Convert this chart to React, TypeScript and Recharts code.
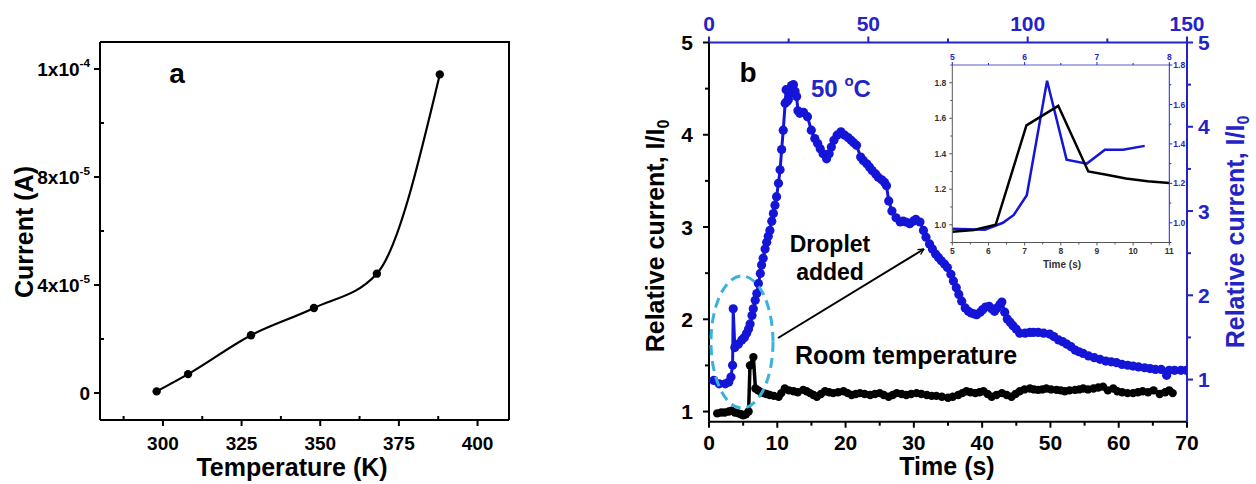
import React from "react";
import { LineChart, Line, XAxis, YAxis } from "recharts";

const FONT = '"Liberation Sans", Arial, Helvetica, sans-serif';
const BLUE = "#1515d8";
const AXBLUE = "#2424c6";
const SKY = "#3ab2dc";

// ---- panel a: current vs temperature
const tempK = [298, 308, 328, 348, 368, 388];
const currentA = [0.06e-5, 0.7e-5, 2.14e-5, 3.15e-5, 4.42e-5, 11.8e-5];
const tempTicks = [287.5, 300, 312.5, 325, 337.5, 350, 362.5, 375, 387.5, 400];
const tempMajor = [300, 325, 350, 375, 400];
const currTicks = [0, 2e-5, 4e-5, 6e-5, 8e-5, 1e-4, 1.2e-4];
const currMajor = [0, 4e-5, 8e-5, 1.2e-4];
const currLabels = ["0", "4x10^-5", "8x10^-5", "1x10^-4"];

// ---- panel b: room temperature (bottom / left axes), [time s, I/I0]
const roomSeries: [number, number][] = [
  [1.2, 0.98], [1.8, 0.99], [2.3, 0.99], [2.9, 1.0], [3.3, 1.01], [3.8, 0.99], [4.3, 0.98],
  [4.7, 0.97], [5.0, 0.96], [5.4, 0.97], [5.8, 1.0], [6.0, 1.5], [6.5, 1.59], [6.8, 1.25],
  [7.2, 1.23], [7.6, 1.21], [8.0, 1.2], [8.4, 1.19], [8.9, 1.18], [9.5, 1.17], [10.2, 1.16],
  [10.6, 1.2], [11.1, 1.25], [11.7, 1.23], [12.4, 1.22], [13.0, 1.21], [13.8, 1.235],
  [14.3, 1.22], [14.8, 1.2], [15.3, 1.18], [15.8, 1.16], [16.4, 1.19], [17.0, 1.22],
  [17.6, 1.21], [18.2, 1.2], [18.9, 1.21], [19.7, 1.22], [20.3, 1.2], [20.9, 1.18],
  [21.5, 1.19], [22.1, 1.2], [22.8, 1.19], [23.6, 1.18], [24.3, 1.19], [25.0, 1.2],
  [25.6, 1.18], [26.3, 1.16], [26.9, 1.18], [27.5, 1.2], [28.2, 1.19], [28.9, 1.18],
  [29.6, 1.19], [30.4, 1.2], [31.1, 1.19], [31.9, 1.18], [32.6, 1.17], [33.3, 1.17],
  [34.1, 1.16], [35.0, 1.15], [35.7, 1.16], [36.5, 1.18], [37.1, 1.2], [37.7, 1.22],
  [38.3, 1.21], [39.0, 1.2], [39.6, 1.21], [40.2, 1.22], [40.8, 1.19], [41.4, 1.16],
  [42.1, 1.18], [42.9, 1.2], [43.6, 1.18], [44.3, 1.16], [44.9, 1.19], [45.5, 1.22],
  [46.2, 1.24], [47.0, 1.25], [47.6, 1.24], [48.2, 1.235], [48.8, 1.24], [49.4, 1.25],
  [50.1, 1.24], [50.9, 1.235], [51.5, 1.23], [52.1, 1.22], [52.8, 1.23], [53.6, 1.235],
  [54.2, 1.24], [54.8, 1.25], [55.5, 1.24], [56.3, 1.25], [57.0, 1.26], [57.7, 1.27],
  [58.4, 1.23], [59.2, 1.25], [59.8, 1.22], [60.5, 1.21], [61.3, 1.2], [62.1, 1.2],
  [62.8, 1.21], [63.5, 1.22], [64.3, 1.21], [65.1, 1.23], [66.0, 1.19], [66.8, 1.21],
  [67.4, 1.23], [67.9, 1.2],
];

// ---- panel b: 50 oC (top / right axes)
const hotSeries: [number, number][] = [
  [1.5, 0.99], [3.2, 0.95], [5.1, 0.95], [6.2, 0.97], [6.9, 1.03], [7.4, 1.17], [7.6, 1.84],
  [8.1, 1.38], [9.2, 1.42], [10.3, 1.47], [11.1, 1.5], [11.8, 1.55], [12.4, 1.6], [12.9, 1.66],
  [13.5, 1.76], [13.9, 1.84], [14.5, 1.94], [15.0, 2.02], [15.5, 2.14], [16.1, 2.26],
  [16.5, 2.36], [17.0, 2.44], [17.6, 2.55], [18.1, 2.63], [18.6, 2.7], [19.1, 2.77],
  [19.7, 2.88], [20.2, 2.97], [20.7, 3.07], [21.2, 3.17], [21.8, 3.33], [22.3, 3.49],
  [22.8, 3.73], [23.3, 3.96], [23.9, 4.28], [24.2, 4.44], [24.5, 4.3], [24.9, 4.32],
  [25.5, 4.4], [25.9, 4.49], [26.5, 4.5], [27.0, 4.42], [27.5, 4.36], [27.9, 4.19],
  [28.5, 4.16], [29.7, 4.17], [30.9, 4.12], [32.1, 3.96], [33.2, 3.86], [34.1, 3.8],
  [34.9, 3.74], [35.8, 3.68], [36.9, 3.62], [37.7, 3.68], [38.4, 3.76], [39.2, 3.84],
  [40.2, 3.9], [41.4, 3.94], [42.6, 3.9], [43.7, 3.87], [44.6, 3.84], [45.4, 3.81],
  [46.3, 3.78], [47.6, 3.64], [48.4, 3.6], [49.5, 3.56], [50.4, 3.52], [51.2, 3.48],
  [52.3, 3.44], [53.1, 3.4], [54.2, 3.37], [55.1, 3.34], [55.7, 3.3], [56.4, 3.12],
  [57.4, 3.0], [58.7, 2.92], [60.0, 2.87], [60.9, 2.88], [61.8, 2.87], [63.0, 2.85],
  [64.1, 2.88], [64.9, 2.9], [66.2, 2.87], [67.3, 2.77], [68.1, 2.69], [69.2, 2.61],
  [70.1, 2.55], [71.1, 2.49], [72.0, 2.45], [72.9, 2.41], [73.9, 2.37], [74.8, 2.33],
  [75.9, 2.25], [76.7, 2.17], [77.6, 2.09], [78.4, 2.01], [79.3, 1.93], [80.4, 1.85],
  [81.4, 1.81], [82.3, 1.79], [83.1, 1.78], [84.0, 1.77], [85.1, 1.8], [85.9, 1.83],
  [86.8, 1.86], [87.9, 1.87], [88.7, 1.84], [89.6, 1.81], [90.4, 1.85], [91.3, 1.89],
  [91.9, 1.92], [92.8, 1.8], [93.6, 1.72], [94.5, 1.68], [95.4, 1.64], [96.4, 1.6],
  [97.5, 1.55], [99.2, 1.55], [100.7, 1.56], [101.8, 1.56], [103.3, 1.56], [105.0, 1.55],
  [106.9, 1.54], [108.2, 1.51], [109.7, 1.47], [111.0, 1.45], [112.3, 1.42], [113.6, 1.39],
  [114.9, 1.35], [116.1, 1.33], [117.4, 1.31], [119.1, 1.28], [120.9, 1.26], [122.7, 1.24],
  [124.5, 1.22], [126.2, 1.21], [127.9, 1.2], [129.6, 1.18], [131.4, 1.17], [133.1, 1.16],
  [134.8, 1.15], [136.7, 1.14], [138.4, 1.13], [140.1, 1.12], [141.9, 1.12], [143.6, 1.05],
  [144.4, 1.11], [146.1, 1.11], [148.1, 1.11], [149.8, 1.11],
];

const timeTicks = [0, 5, 10, 15, 20, 25, 30, 35, 40, 45, 50, 55, 60, 65, 70];
const timeMajor = [0, 10, 20, 30, 40, 50, 60, 70];
const topTicks = [0, 25, 50, 75, 100, 125, 150];
const topMajor = [0, 50, 100, 150];
const relTicks = [1, 1.5, 2, 2.5, 3, 3.5, 4, 4.5, 5];
const relMajor = [1, 2, 3, 4, 5];

// ---- inset
const insetRoom: [number, number][] = [
  [5.0, 0.96], [5.6, 0.97], [6.2, 1.0], [7.05, 1.56], [7.93, 1.67], [8.76, 1.3],
  [9.3, 1.28], [9.8, 1.26], [10.4, 1.245], [11.0, 1.235],
];
const insetHot: [number, number][] = [
  [5.0, 0.97], [5.45, 0.965], [5.7, 1.0], [5.85, 1.04], [6.03, 1.14], [6.31, 1.72],
  [6.58, 1.32], [6.86, 1.3], [7.11, 1.37], [7.36, 1.37], [7.66, 1.39],
];
const inBotTicks = [5, 5.5, 6, 6.5, 7, 7.5, 8, 8.5, 9, 9.5, 10, 10.5, 11];
const inBotMajor = [5, 6, 7, 8, 9, 10, 11];
const inTopTicks = [5, 5.5, 6, 6.5, 7, 7.5, 8];
const inTopMajor = [5, 6, 7, 8];
const inLeftTicks = [0.9, 1.0, 1.1, 1.2, 1.3, 1.4, 1.5, 1.6, 1.7, 1.8, 1.9];
const inRightTicks = [0.9, 1.0, 1.1, 1.2, 1.3, 1.4, 1.5, 1.6, 1.7, 1.8];
const inRelMajor = [1.0, 1.2, 1.4, 1.6, 1.8];

type Side = "left" | "right" | "top" | "bottom";
type TickCfg = {
  side: Side;
  major: number[];
  labels?: string[];
  fmt?: (v: number) => string;
  color: string;
  size: number;
  majLen: number;
  minLen: number;
  majIn?: boolean;
  minIn?: boolean;
  gap: number;
  lineColor?: string;
  lineWidth?: number;
};

const same = (a: number, b: number) =>
  Math.abs(a - b) <= 1e-6 * (Math.abs(a) + Math.abs(b)) + 1e-12;

function rich(s: string, size: number) {
  const i = s.indexOf("^");
  if (i < 0) return s;
  return [
    <tspan key="b">{s.slice(0, i)}</tspan>,
    <tspan key="s" fontSize={size * 0.62} dy={-size * 0.45}>
      {s.slice(i + 1)}
    </tspan>,
  ];
}

function makeTick(c: TickCfg) {
  return (p: any) => {
    const { x, y, payload } = p;
    const v = payload.value;
    const mi = c.major.findIndex((m) => same(m, v));
    const isMaj = mi >= 0;
    const len = isMaj ? c.majLen : c.minLen;
    const inward = isMaj ? !!c.majIn : !!c.minIn;
    const s = inward ? -1 : 1;
    let x2 = x;
    let y2 = y;
    if (c.side === "left") x2 = x - s * len;
    if (c.side === "right") x2 = x + s * len;
    if (c.side === "top") y2 = y - s * len;
    if (c.side === "bottom") y2 = y + s * len;
    const label = isMaj
      ? c.labels
        ? c.labels[mi]
        : c.fmt
        ? c.fmt(v)
        : String(v)
      : null;
    const off = (inward ? 0 : len) + c.gap;
    let tx = x;
    let ty = y;
    let anchor: "start" | "middle" | "end" = "middle";
    let dy = 0;
    if (c.side === "left") {
      tx = x - off;
      anchor = "end";
      dy = c.size * 0.36;
    } else if (c.side === "right") {
      tx = x + off;
      anchor = "start";
      dy = c.size * 0.36;
    } else if (c.side === "top") {
      ty = y - off;
    } else {
      ty = y + off;
      dy = c.size * 0.72;
    }
    return (
      <g>
        <line
          x1={x}
          y1={y}
          x2={x2}
          y2={y2}
          stroke={c.lineColor || c.color}
          strokeWidth={c.lineWidth || 2}
        />
        {label !== null && (
          <text
            x={tx}
            y={ty}
            dy={dy}
            textAnchor={anchor}
            fill={c.color}
            fontSize={c.size}
            fontWeight={700}
            fontFamily={FONT}
          >
            {rich(label, c.size)}
          </text>
        )}
      </g>
    );
  };
}

const axisCommon = {
  tickSize: 0,
  tickMargin: 0,
  tickLine: false,
  interval: 0 as const,
  allowDataOverflow: true,
};

export default function App() {
  const aData = tempK.map((t, i) => ({ x: t, y: currentA[i] }));
  const roomData = roomSeries.map(([x, y]) => ({ x, y }));
  const hotData = hotSeries.map(([x, y]) => ({ x, y }));
  const inRoomData = insetRoom.map(([x, y]) => ({ x, y }));
  const inHotData = insetHot.map(([x, y]) => ({ x, y }));
  const f1 = (v: number) => v.toFixed(1);

  return (
    <div
      style={{
        position: "absolute",
        left: 0,
        top: 0,
        width: 1256,
        height: 484,
        background: "#fff",
        fontFamily: FONT,
        overflow: "hidden",
      }}
    >
      {/* panel a */}
      <div style={{ position: "absolute", left: 0, top: 0 }}>
        <LineChart width={560} height={484} margin={{ top: 40, right: 49, bottom: 24, left: 40 }}>
          <XAxis
            {...axisCommon}
            type="number"
            dataKey="x"
            domain={[280, 410]}
            ticks={tempTicks}
            height={40}
            axisLine={{ stroke: "#000", strokeWidth: 2 }}
            tick={makeTick({ side: "bottom", major: tempMajor, color: "#000", size: 19, majLen: 6, minLen: 4, minIn: true, gap: 10 })}
          />
          <XAxis
            {...axisCommon}
            xAxisId="frame"
            orientation="top"
            type="number"
            domain={[280, 410]}
            ticks={[]}
            tick={false}
            height={2}
            axisLine={{ stroke: "#000", strokeWidth: 2 }}
          />
          <YAxis
            {...axisCommon}
            type="number"
            dataKey="y"
            domain={[-1e-5, 1.3e-4]}
            ticks={currTicks}
            width={60}
            axisLine={{ stroke: "#000", strokeWidth: 2 }}
            tick={makeTick({ side: "left", major: currMajor, labels: currLabels, color: "#000", size: 19, majLen: 6, minLen: 4, minIn: true, gap: 4 })}
          />
          <YAxis
            {...axisCommon}
            yAxisId="frame"
            orientation="right"
            type="number"
            domain={[-1e-5, 1.3e-4]}
            ticks={[]}
            tick={false}
            width={2}
            axisLine={{ stroke: "#000", strokeWidth: 2 }}
          />
          <Line
            data={aData}
            dataKey="y"
            type="monotone"
            stroke="#000"
            strokeWidth={2.2}
            dot={{ r: 4.2, fill: "#000", stroke: "none" }}
            isAnimationActive={false}
          />
        </LineChart>
      </div>

      {/* panel b */}
      <div style={{ position: "absolute", left: 560, top: 0 }}>
        <LineChart width={696} height={484} margin={{ top: 12.5, right: 19, bottom: 27.3, left: 99 }}>
          <XAxis
            {...axisCommon}
            xAxisId="b"
            orientation="bottom"
            type="number"
            dataKey="x"
            domain={[0, 70]}
            ticks={timeTicks}
            height={35}
            axisLine={{ stroke: "#000", strokeWidth: 2 }}
            tick={makeTick({ side: "bottom", major: timeMajor, color: "#000", size: 21, majLen: 6, minLen: 4, gap: 7 })}
          />
          <XAxis
            {...axisCommon}
            xAxisId="t"
            orientation="top"
            type="number"
            dataKey="x"
            domain={[0, 150]}
            ticks={topTicks}
            height={30}
            axisLine={{ stroke: AXBLUE, strokeWidth: 2 }}
            tick={makeTick({ side: "top", major: topMajor, color: AXBLUE, size: 21, majLen: 6, minLen: 4, gap: 6 })}
          />
          <YAxis
            {...axisCommon}
            yAxisId="l"
            orientation="left"
            type="number"
            domain={[0.89, 5]}
            ticks={relTicks}
            width={50}
            axisLine={{ stroke: "#000", strokeWidth: 2 }}
            tick={makeTick({ side: "left", major: relMajor, color: "#000", size: 21, majLen: 6, minLen: 4, gap: 10 })}
          />
          <YAxis
            {...axisCommon}
            yAxisId="r"
            orientation="right"
            type="number"
            domain={[0.5, 5]}
            ticks={relTicks}
            width={50}
            axisLine={{ stroke: AXBLUE, strokeWidth: 2 }}
            tick={makeTick({ side: "right", major: relMajor, color: AXBLUE, size: 21, majLen: 6, minLen: 4, gap: 5 })}
          />
          <Line
            xAxisId="t"
            yAxisId="r"
            data={hotData}
            dataKey="y"
            type="linear"
            stroke={BLUE}
            strokeWidth={3}
            dot={{ r: 4.6, fill: BLUE, stroke: "none" }}
            isAnimationActive={false}
          />
          <Line
            xAxisId="b"
            yAxisId="l"
            data={roomData}
            dataKey="y"
            type="linear"
            stroke="#000"
            strokeWidth={3.5}
            dot={{ r: 4.2, fill: "#000", stroke: "none" }}
            isAnimationActive={false}
          />
        </LineChart>
      </div>

      {/* inset */}
      <div style={{ position: "absolute", left: 900, top: 40 }}>
        <LineChart width={300} height={240} margin={{ top: 10, right: 10.7, bottom: 17.5, left: 30.3 }}>
          <XAxis
            {...axisCommon}
            xAxisId="b"
            orientation="bottom"
            type="number"
            dataKey="x"
            domain={[5, 11]}
            ticks={inBotTicks}
            height={20}
            axisLine={{ stroke: "#555", strokeWidth: 1 }}
            tick={makeTick({ side: "bottom", major: inBotMajor, color: "#333", size: 8.5, majLen: 3, minLen: 2, gap: 2, lineWidth: 1, lineColor: "#555" })}
          />
          <XAxis
            {...axisCommon}
            xAxisId="t"
            orientation="top"
            type="number"
            dataKey="x"
            domain={[5, 8]}
            ticks={inTopTicks}
            height={15}
            axisLine={{ stroke: "#5a5ac8", strokeWidth: 1 }}
            tick={makeTick({ side: "top", major: inTopMajor, color: AXBLUE, size: 8.5, majLen: 3, minLen: 2, gap: 2, lineWidth: 1 })}
          />
          <YAxis
            {...axisCommon}
            yAxisId="l"
            orientation="left"
            type="number"
            domain={[0.9, 1.9]}
            ticks={inLeftTicks}
            width={22}
            axisLine={{ stroke: "#555", strokeWidth: 1 }}
            tick={makeTick({ side: "left", major: inRelMajor, fmt: f1, color: "#333", size: 8.5, majLen: 3, minLen: 2, gap: 3, lineWidth: 1, lineColor: "#555" })}
          />
          <YAxis
            {...axisCommon}
            yAxisId="r"
            orientation="right"
            type="number"
            domain={[0.9, 1.8]}
            ticks={inRightTicks}
            width={20}
            axisLine={{ stroke: AXBLUE, strokeWidth: 1 }}
            tick={makeTick({ side: "right", major: inRelMajor, fmt: f1, color: AXBLUE, size: 8.5, majLen: 3, minLen: 2, gap: 1, lineWidth: 1 })}
          />
          <Line xAxisId="t" yAxisId="r" data={inHotData} dataKey="y" type="linear" stroke={BLUE} strokeWidth={2.5} dot={false} isAnimationActive={false} />
          <Line xAxisId="b" yAxisId="l" data={inRoomData} dataKey="y" type="linear" stroke="#000" strokeWidth={2.5} dot={false} isAnimationActive={false} />
        </LineChart>
      </div>

      {/* titles and annotations */}
      <svg
        width={1256}
        height={484}
        style={{ position: "absolute", left: 0, top: 0, pointerEvents: "none" }}
        fontFamily={FONT}
        fontWeight={700}
      >
        <defs>
          <marker id="arr" viewBox="0 0 12 12" refX="11" refY="6" markerWidth="7" markerHeight="7" orient="auto" markerUnits="userSpaceOnUse">
            <path d="M1,1 L11,6 L1,11" fill="none" stroke="#000" strokeWidth="2.2" />
          </marker>
        </defs>
        {/* panel a frame, top and right edges */}
        <path d="M100,42 L509,42 L509,420" fill="none" stroke="#000" strokeWidth={2} />
        <text x={177} y={73} dy="0.36em" textAnchor="middle" fontSize={28}>a</text>
        <text transform="translate(24,232) rotate(-90)" textAnchor="middle" dy="0.36em" fontSize={25}>Current (A)</text>
        <text x={292} y={467} dy="0.36em" textAnchor="middle" fontSize={25}>Temperature (K)</text>

        {/* panel b */}
        <text x={748} y={72} dy="0.36em" textAnchor="middle" fontSize={28}>b</text>
        <text x={811} y={97} fontSize={24} fill={AXBLUE}>
          50 <tspan fontSize={15} dy={-11}>o</tspan>
          <tspan dy={11}>C</tspan>
        </text>
        <text x={830} y={252} textAnchor="middle" fontSize={23}>Droplet</text>
        <text x={830} y={280} textAnchor="middle" fontSize={23}>added</text>
        <text x={795} y={364} fontSize={25}>Room temperature</text>
        <line x1={778} y1={338} x2={924} y2={249} stroke="#000" strokeWidth={2} markerEnd="url(#arr)" />
        <ellipse cx={742} cy={342} rx={31} ry={66} fill="none" stroke={SKY} strokeWidth={3} strokeDasharray="10 6" />
        <text transform="translate(655,236) rotate(-90)" textAnchor="middle" dy="0.36em" fontSize={25}>
          Relative current, I/I<tspan fontSize={16} dy={5}>0</tspan>
        </text>
        <text transform="translate(1235,232) rotate(-90)" textAnchor="middle" dy="0.36em" fontSize={25} fill={AXBLUE}>
          Relative current, I/I<tspan fontSize={16} dy={5}>0</tspan>
        </text>
        <text x={947} y={466} dy="0.36em" textAnchor="middle" fontSize={25}>Time (s)</text>
        <text x={1062} y={264} dy="0.36em" textAnchor="middle" fontSize={10} fill="#333">Time (s)</text>
      </svg>
    </div>
  );
}
